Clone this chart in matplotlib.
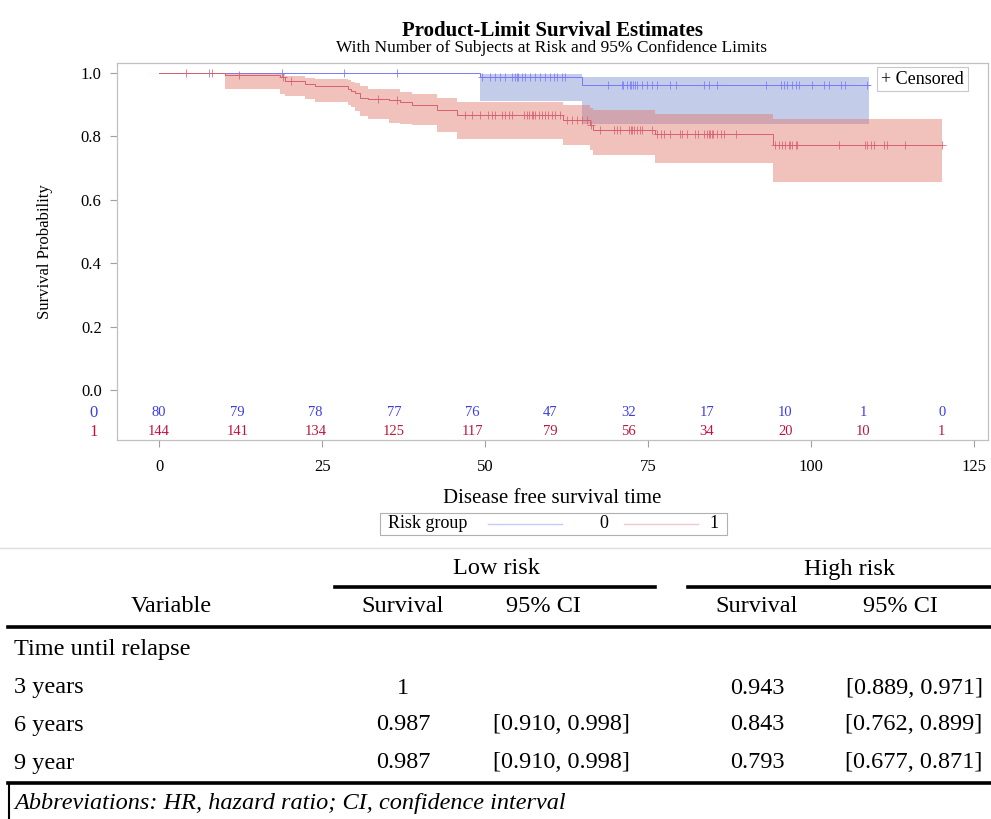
import numpy as np
import matplotlib
matplotlib.use('Agg')
import matplotlib.pyplot as plt
from matplotlib.lines import Line2D
from matplotlib.patches import Rectangle

plt.rcParams['font.family'] = ['Liberation Serif', 'DejaVu Serif']

# ---- survival curves ----
# group 0 (low risk)
t0 = [0, 49.2, 64.8]
s0 = [1.0, 0.986, 0.962]
lo0 = [np.nan, 0.911, 0.840]
hi0 = [np.nan, 0.998, 0.987]
end0 = 108.8

# group 1 (high risk)
t1 = [0, 10.1, 18.6, 19.3, 22.4, 23.9, 29.0, 29.5, 30.1, 30.8, 32.1, 35.2,
      37.0, 38.8, 42.6, 45.7, 62.0, 66.1, 66.6, 76.1, 94.2]
s1 = [1.0, 0.993, 0.986, 0.975, 0.965, 0.958, 0.950, 0.943, 0.936, 0.922,
      0.917, 0.915, 0.907, 0.899, 0.883, 0.868, 0.852, 0.835, 0.819, 0.809,
      0.774]
lo1 = [np.nan, 0.951, 0.935, 0.928, 0.917, 0.909, 0.900, 0.894, 0.880,
       0.864, 0.856, 0.842, 0.840, 0.836, 0.815, 0.791, 0.773, 0.756, 0.740,
       0.716, 0.656]
hi1 = [np.nan, 0.999, 0.997, 0.990, 0.985, 0.982, 0.978, 0.972, 0.968,
       0.960, 0.951, 0.949, 0.941, 0.934, 0.920, 0.910, 0.898, 0.890, 0.882,
       0.872, 0.854]
end1 = 120.0

# censoring times
cens0 = [7.6, 18.8, 28.3, 36.5, 49.5, 50.8, 51.5, 52.3, 53.1, 54.1, 54.6,
         54.9, 55.1, 55.6, 56.1, 56.9, 57.7, 58.4, 59.2, 60.0, 60.5, 61.0,
         61.8, 62.3, 68.9, 71.0, 71.2, 71.8, 72.2, 72.4, 72.7, 73.0, 73.3,
         74.1, 74.8, 75.6, 76.4, 78.4, 79.2, 83.5, 84.3, 85.6, 93.0, 95.3,
         95.8, 96.3, 97.1, 97.6, 98.1, 100.1, 101.9, 102.7, 104.5, 105.2,
         108.6]
cens1 = [4.2, 8.1, 12.3, 19.0, 20.3, 33.6, 36.5, 46.9, 48.0, 49.2, 50.5,
         51.0, 51.5, 52.6, 53.1, 53.6, 54.1, 55.9, 56.4, 56.7, 57.2, 57.4,
         57.7, 58.2, 58.7, 59.2, 59.7, 60.2, 60.7, 61.5, 62.5, 63.3, 64.1,
         64.8, 65.6, 66.3, 67.6, 69.7, 70.2, 70.7, 72.0, 72.3, 72.5, 72.8,
         73.3, 73.8, 74.1, 75.6, 76.4, 76.9, 77.4, 78.4, 79.9, 80.2, 81.0,
         82.2, 82.7, 83.5, 84.0, 84.3, 84.5, 84.8, 85.0, 85.6, 86.1, 86.6,
         88.4, 94.5, 95.0, 95.5, 96.0, 96.6, 96.8, 97.1, 97.6, 97.8, 104.2,
         108.3, 108.6, 109.1, 109.6, 111.1, 111.6, 114.4, 120.0]

# number at risk
risk_times = [0, 12, 24, 36, 48, 60, 72, 84, 96, 108, 120]
risk0 = [80, 79, 78, 77, 76, 47, 32, 17, 10, 1, 0]
risk1 = [144, 141, 134, 125, 117, 79, 56, 34, 20, 10, 1]

# table
tab_rows = ['3 years', '6 years', '9 year']
low_surv = ['1', '0.987', '0.987']
low_ci = ['', '[0.910, 0.998]', '[0.910, 0.998]']
high_surv = ['0.943', '0.843', '0.793']
high_ci = ['[0.889, 0.971]', '[0.762, 0.899]', '[0.677, 0.871]']

blue_line = '#7878ff'
red_line = '#d8606e'
blue_fill = '#7a8fcc'
red_fill = '#e0776a'
blue_txt = '#3c3ce6'
red_txt = '#c0143c'

W, H = 991, 819
fig = plt.figure(figsize=(W / 100, H / 100), dpi=100)


def fx(px):
    return px / W


def fy(py):
    return 1 - py / H


ax = fig.add_axes([fx(117), fy(440), fx(988) - fx(117), fy(63) - fy(440)])


def draw_group(t, s, lo, hi, end, cens, lc, fc):
    tt = np.append(t, end)
    ss = np.append(s, s[-1])
    ll = np.append(lo, lo[-1])
    hh = np.append(hi, hi[-1])
    ax.fill_between(tt, ll, hh, step='post', color=fc, alpha=0.45, lw=0)
    ax.step(tt, ss, where='post', color=lc, lw=0.7)
    idx = np.searchsorted(t, cens, side='right') - 1
    ax.plot(cens, np.array(s)[idx], ls='none', marker='+', ms=6, mew=0.55,
            color=lc)


draw_group(t0, s0, lo0, hi0, end0, cens0, blue_line, blue_fill)
draw_group(t1, s1, lo1, hi1, end1, cens1, red_line, red_fill)

# at-risk rows inside the plot
for xt, a, b in zip(risk_times, risk0, risk1):
    ax.text(xt, -0.0726, str(a), color=blue_txt, fontsize=10.5,
            ha='center', va='center')
    ax.text(xt, -0.1325, str(b), color=red_txt, fontsize=10.5,
            ha='center', va='center')
ax.text(-0.022, -0.0726, '0', color=blue_txt, fontsize=12, ha='right',
        va='center', transform=ax.get_yaxis_transform())
ax.text(-0.022, -0.1325, '1', color=red_txt, fontsize=12, ha='right',
        va='center', transform=ax.get_yaxis_transform())

ax.set_xlim(-6.44, 127.1)
ax.set_ylim(-0.158, 1.0315)
ax.set_xticks([0, 25, 50, 75, 100, 125])
ax.set_yticks([0.0, 0.2, 0.4, 0.6, 0.8, 1.0])
ax.set_yticklabels(['0.0', '0.2', '0.4', '0.6', '0.8', '1.0'])
ax.tick_params(axis='x', labelsize=12, colors='#a0a0a0', labelcolor='black',
               length=5, pad=9)
ax.tick_params(axis='y', labelsize=12, colors='#a0a0a0', labelcolor='black',
               length=5, pad=6)
for sp in ax.spines.values():
    sp.set_color('#c0c0c0')
    sp.set_linewidth(0.9)
ax.set_xlabel('Disease free survival time', fontsize=15, labelpad=10)
ax.set_ylabel('Survival Probability', fontsize=12, labelpad=20)

fig.text(fx(552), fy(31), 'Product-Limit Survival Estimates', fontsize=15,
         fontweight='bold', ha='center', va='center')
fig.text(fx(552), fy(48), 'With Number of Subjects at Risk and 95% Confidence Limits',
         fontsize=12.5, ha='center', va='center')

# "+ Censored" legend
fig.text(fx(881), fy(79), '+ Censored', fontsize=13, ha='left', va='center',
         bbox=dict(boxstyle='square,pad=0.22', fc='white', ec='#c8c8c8', lw=0.8))

# bottom legend
fig.patches.append(Rectangle((fx(380), fy(535)), fx(727) - fx(380), fy(513) - fy(535),
                             transform=fig.transFigure, fill=False, ec='#b0b0b0', lw=0.8))
fig.text(fx(388), fy(524), 'Risk group', fontsize=13, ha='left', va='center')
fig.lines.append(Line2D([fx(488), fx(562)], [fy(524), fy(524)], transform=fig.transFigure,
                        color='#c8c8ff', lw=1))
fig.text(fx(604), fy(524), '0', fontsize=13, ha='center', va='center')
fig.lines.append(Line2D([fx(624), fx(698)], [fy(524), fy(524)], transform=fig.transFigure,
                        color='#f0c8d0', lw=1))
fig.text(fx(714), fy(524), '1', fontsize=13, ha='center', va='center')

# ---- table ----
tb = fig.add_axes([0, 0, 1, (H - 540) / H])
tb.set_xlim(0, W)
tb.set_ylim(H, 540)
tb.axis('off')
fs = 17.5
tb.plot([0, W], [548, 548], color='#dddddd', lw=1)
tb.plot([335, 655], [587, 587], color='black', lw=2.6)
tb.plot([688, W], [587, 587], color='black', lw=2.6)
tb.plot([8, W], [627, 627], color='black', lw=2.6)
tb.plot([8, W], [783, 783], color='black', lw=2.6)
tb.plot([9, 9], [783, H], color='black', lw=1.5)

tb.text(496, 569, 'Low risk', fontsize=fs, ha='center', va='center')
tb.text(849, 569, 'High risk', fontsize=fs, ha='center', va='center')
for xc, lab in zip([171, 403, 543, 757, 900],
                   ['Variable', 'Survival', '95% CI', 'Survival', '95% CI']):
    tb.text(xc, 607, lab, fontsize=fs, ha='center', va='center')
tb.text(14, 649, 'Time until relapse', fontsize=fs, ha='left', va='center')
for yr, name, a, b, c, d in zip([688, 725, 763], tab_rows, low_surv, low_ci,
                                high_surv, high_ci):
    tb.text(14, yr, name, fontsize=fs, ha='left', va='center')
    tb.text(403, yr, a, fontsize=fs, ha='center', va='center')
    tb.text(561, yr, b, fontsize=fs, ha='center', va='center')
    tb.text(757, yr, c, fontsize=fs, ha='center', va='center')
    tb.text(914, yr, d, fontsize=fs, ha='center', va='center')
tb.text(14, 803, 'Abbreviations: HR, hazard ratio; CI, confidence interval',
        fontsize=fs, style='italic', ha='left', va='center')

fig.savefig('out.png', dpi=100)
